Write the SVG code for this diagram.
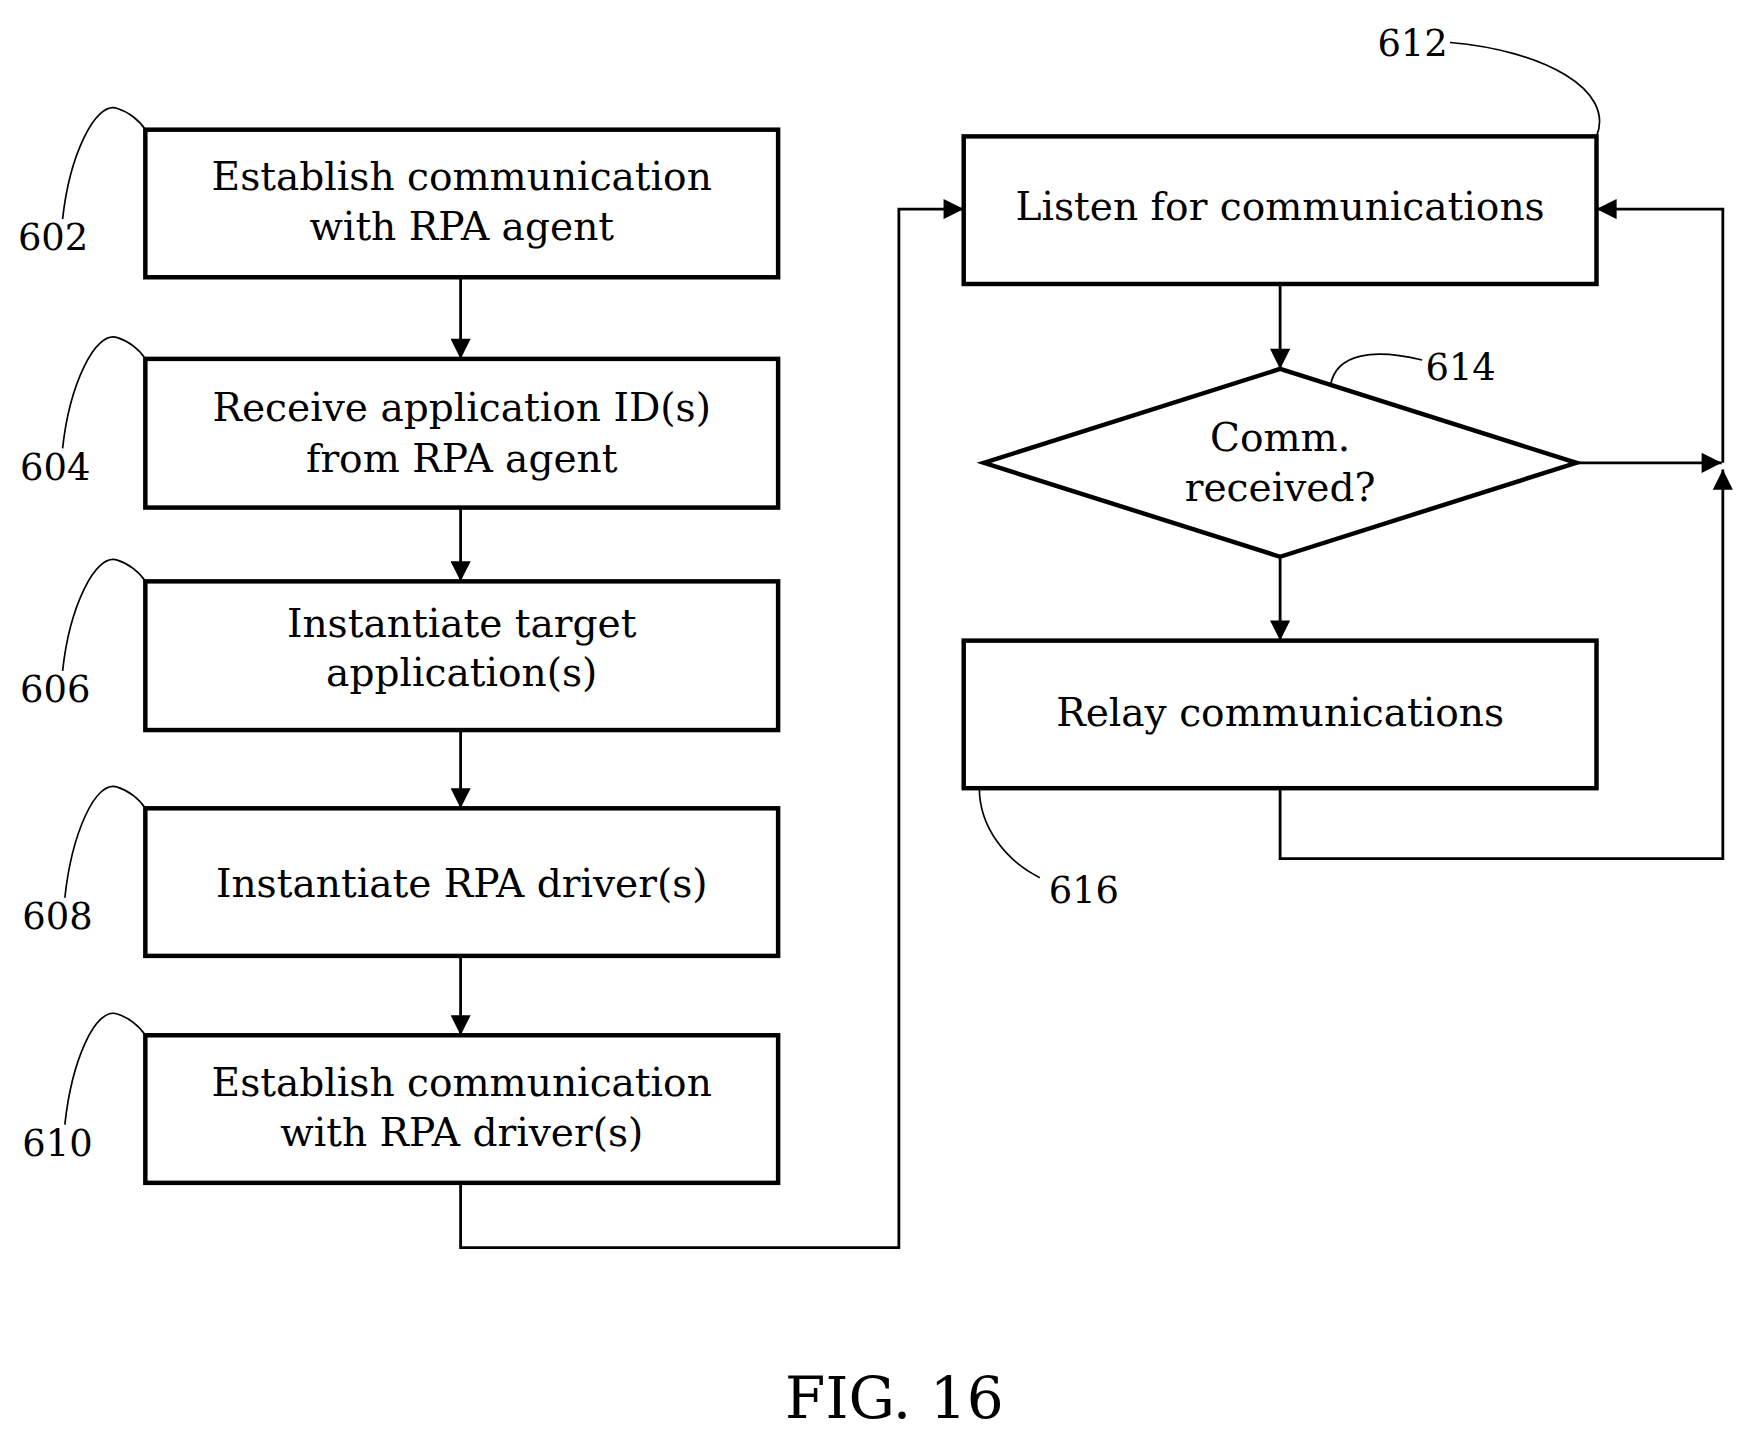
<svg xmlns="http://www.w3.org/2000/svg" width="1744" height="1433" viewBox="0 0 1744 1433">
<style>
.b{fill:#fff;stroke:#000;stroke-width:4}
.t{font-family:"DejaVu Serif",serif;font-size:35px;text-anchor:middle;fill:#000}
.n{font-family:"DejaVu Serif",serif;font-size:33px;fill:#000}
.c{fill:none;stroke:#000;stroke-width:2.5}
.l{fill:none;stroke:#000;stroke-width:1.5}
</style>
<defs><marker id="A" viewBox="0 0 10 10" markerWidth="20" markerHeight="18" refX="10" refY="5" orient="auto" markerUnits="userSpaceOnUse"><path d="M0,0 L10,5 L0,10 z"/></marker></defs>
<rect width="1744" height="1433" fill="#fff"/>
<g transform="scale(1.118)">
<g id="connectors">
<path class="c" d="M412 248 V321" marker-end="url(#A)"/>
<path class="c" d="M412 454 V520" marker-end="url(#A)"/>
<path class="c" d="M412 653 V723" marker-end="url(#A)"/>
<path class="c" d="M412 855 V926" marker-end="url(#A)"/>
<path class="c" d="M412 1058 V1116 H804 V187 H862" marker-end="url(#A)"/>
<path class="c" d="M1145 254 V330" marker-end="url(#A)"/>
<path class="c" d="M1145 498 V573" marker-end="url(#A)"/>
<path class="c" d="M1410 414 H1540" marker-end="url(#A)"/>
<path class="c" d="M1145 705 V768 H1541 V420" marker-end="url(#A)"/>
<path class="c" d="M1541 414 V187 H1428" marker-end="url(#A)"/>
</g>
<g id="n602"><rect class="b" x="130" y="116" width="566" height="132"/><text class="t" x="413" y="170">Establish communication</text><text class="t" x="413" y="215">with RPA agent</text><text class="n" x="16" y="224">602</text><path class="l" d="M56 196 C62 140 85 90 105 97 C115 100 125 108 130 116"/></g>
<g id="n604"><rect class="b" x="130" y="321" width="566" height="133"/><text class="t" x="413" y="377">Receive application ID(s)</text><text class="t" x="413" y="422">from RPA agent</text><text class="n" x="18" y="429">604</text><path class="l" d="M56 401 C62 345 85 295 105 302 C115 305 125 313 130 321"/></g>
<g id="n606"><rect class="b" x="130" y="520" width="566" height="133"/><text class="t" x="413" y="570">Instantiate target</text><text class="t" x="413" y="614">application(s)</text><text class="n" x="18" y="628">606</text><path class="l" d="M56 600 C62 544 85 494 105 501 C115 504 125 512 130 520"/></g>
<g id="n608"><rect class="b" x="130" y="723" width="566" height="132"/><text class="t" x="413" y="802">Instantiate RPA driver(s)</text><text class="n" x="20" y="831">608</text><path class="l" d="M58 803 C64 747 85 697 105 704 C115 707 125 715 130 723"/></g>
<g id="n610"><rect class="b" x="130" y="926" width="566" height="132"/><text class="t" x="413" y="980">Establish communication</text><text class="t" x="413" y="1025">with RPA driver(s)</text><text class="n" x="20" y="1034">610</text><path class="l" d="M58 1006 C64 950 85 900 105 907 C115 910 125 918 130 926"/></g>
<g id="n612"><rect class="b" x="862" y="122" width="566" height="132"/><text class="t" x="1145" y="197">Listen for communications</text><text class="n" x="1232" y="50">612</text><path class="l" d="M1297 38 C1380 45 1445 80 1428 122"/></g>
<g id="n614"><polygon class="b" points="880,414 1145,330 1410,414 1145,498"/><text class="t" x="1145" y="403">Comm.</text><text class="t" x="1145" y="448">received?</text><text class="n" x="1275" y="340">614</text><path class="l" d="M1272 322 C1230 312 1195 315 1190 345"/></g>
<g id="n616"><rect class="b" x="862" y="573" width="566" height="132"/><text class="t" x="1145" y="649">Relay communications</text><text class="n" x="938" y="808">616</text><path class="l" d="M876 705 C876 740 900 770 930 785"/></g>
<text x="800" y="1268" style="font-family:'DejaVu Serif',serif;font-size:52px;text-anchor:middle">FIG. 16</text>
</g>
</svg>
